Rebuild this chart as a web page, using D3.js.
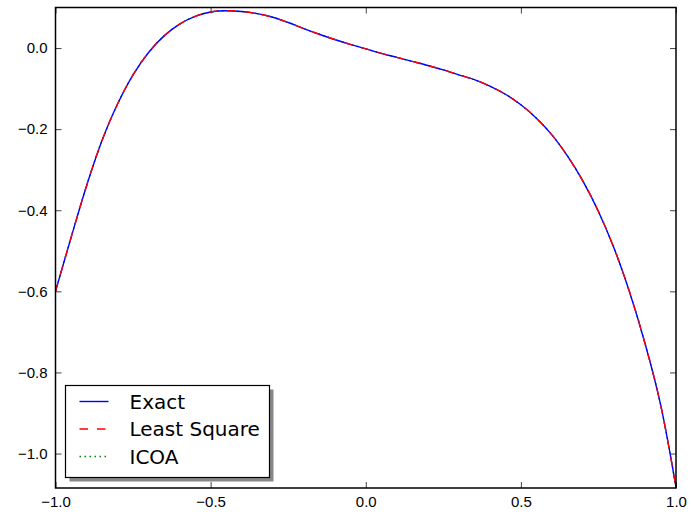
<!DOCTYPE html>
<html>
<head>
<meta charset="utf-8">
<script src="https://cdn.jsdelivr.net/npm/d3@7"></script>
<style>
  body { margin: 0; background: #fff; }
  svg { display: block; font-family: "DejaVu Sans", sans-serif; }
  .axis text { font-size: 15px; fill: #000; }
  .axis path { display: none; }
  .axis line { stroke: #444; stroke-width: 1; }
</style>
</head>
<body>
<svg id="chart" width="691" height="518"></svg>
<script>
/* eslint-env browser */
/* global d3: false */

// values
const xValues = [
  -1.00, -0.95, -0.90, -0.85, -0.80, -0.75, -0.70, -0.65, -0.60, -0.55,
  -0.50, -0.45, -0.40, -0.35, -0.30, -0.25, -0.20, -0.15, -0.10, -0.05,
  0.00, 0.05, 0.10, 0.15, 0.20, 0.25, 0.30, 0.35, 0.40, 0.45,
  0.50, 0.55, 0.60, 0.65, 0.70, 0.75, 0.80, 0.85, 0.90, 0.95, 1.00];
const exactY = [
  -0.600, -0.468, -0.340, -0.228, -0.138, -0.066, -0.011, 0.030, 0.059, 0.078,
  0.089, 0.092, 0.090, 0.085, 0.076, 0.063, 0.048, 0.034, 0.021, 0.009,
  -0.002, -0.013, -0.023, -0.033, -0.043, -0.054, -0.066, -0.078, -0.094, -0.114,
  -0.140, -0.173, -0.214, -0.266, -0.328, -0.403, -0.493, -0.601, -0.728, -0.878, -1.083];
// the two approximations sit on top of the exact curve at this scale
const leastSquareY = exactY.slice();
const icoaY = exactY.slice();

const xTicks = [-1.0, -0.5, 0.0, 0.5, 1.0];
const yTicks = [0.0, -0.2, -0.4, -0.6, -0.8, -1.0];
const seriesNames = ['Exact', 'Least Square', 'ICOA'];

const svg = d3.select('#chart');
const plotLeft = 55.5;
const plotRight = 676;
const plotTop = 7.5;
const plotBottom = 488;

const x = d3.scaleLinear().domain([-1, 1]).range([plotLeft, plotRight]);
const y = d3.scaleLinear().domain([-1.085, 0.1]).range([plotBottom, plotTop]);
const fmt = d3.format('.1f');

// ticks point inward on all four sides
svg.append('g').attr('class', 'axis')
  .attr('transform', `translate(0,${plotBottom})`)
  .call(d3.axisBottom(x).tickValues(xTicks).tickFormat(fmt)
    .tickSizeInner(-6).tickSizeOuter(0).tickPadding(8));
svg.append('g').attr('class', 'axis')
  .attr('transform', `translate(0,${plotTop})`)
  .call(d3.axisTop(x).tickValues(xTicks).tickFormat('')
    .tickSizeInner(-6).tickSizeOuter(0));
svg.append('g').attr('class', 'axis')
  .attr('transform', `translate(${plotLeft},0)`)
  .call(d3.axisLeft(y).tickValues(yTicks).tickFormat(fmt)
    .tickSizeInner(-6).tickSizeOuter(0).tickPadding(8));
svg.append('g').attr('class', 'axis')
  .attr('transform', `translate(${plotRight},0)`)
  .call(d3.axisRight(y).tickValues(yTicks).tickFormat('')
    .tickSizeInner(-6).tickSizeOuter(0));

const series = [
  { name: seriesNames[2], ys: icoaY, color: '#008000', dash: '1.5,3.5' },
  { name: seriesNames[0], ys: exactY, color: '#0000ff', dash: null },
  { name: seriesNames[1], ys: leastSquareY, color: '#ff0000', dash: '8.5,9' },
];

svg.append('clipPath').attr('id', 'plotClip')
  .append('rect')
  .attr('x', plotLeft).attr('y', plotTop)
  .attr('width', plotRight - plotLeft).attr('height', plotBottom - plotTop);

const line = d3.line()
  .x(d => x(d[0]))
  .y(d => y(d[1]))
  .curve(d3.curveCatmullRom.alpha(0.5));

const plot = svg.append('g').attr('clip-path', 'url(#plotClip)');
series.forEach((s) => {
  plot.append('path')
    .datum(xValues.map((v, i) => [v, s.ys[i]]))
    .attr('fill', 'none')
    .attr('stroke', s.color)
    .attr('stroke-width', 1.4)
    .attr('stroke-dasharray', s.dash)
    .attr('d', line);
});

// frame
svg.append('rect')
  .attr('x', plotLeft).attr('y', plotTop)
  .attr('width', plotRight - plotLeft).attr('height', plotBottom - plotTop)
  .attr('fill', 'none')
  .attr('stroke', '#000')
  .attr('stroke-width', 1.5);

// legend with drop shadow
const lx = 65.5;
const ly = 385.5;
const lw = 204;
const lh = 92;
svg.append('rect')
  .attr('x', lx + 4).attr('y', ly + 4)
  .attr('width', lw).attr('height', lh)
  .attr('fill', '#888');
svg.append('rect')
  .attr('x', lx).attr('y', ly)
  .attr('width', lw).attr('height', lh)
  .attr('fill', '#fff')
  .attr('stroke', '#000')
  .attr('stroke-width', 1.2);

const legendOrder = [series[1], series[2], series[0]];
legendOrder.forEach((s, i) => {
  const cy = ly + 16 + i * 27.5;
  svg.append('line')
    .attr('x1', lx + 14).attr('x2', lx + 43)
    .attr('y1', cy).attr('y2', cy)
    .attr('stroke', s.color)
    .attr('stroke-width', 1.4)
    .attr('stroke-dasharray', s.dash);
  svg.append('text')
    .attr('x', lx + 64).attr('y', cy)
    .attr('dy', '0.35em')
    .attr('font-size', '20px')
    .attr('fill', '#000')
    .text(s.name);
});
</script>
</body>
</html>
